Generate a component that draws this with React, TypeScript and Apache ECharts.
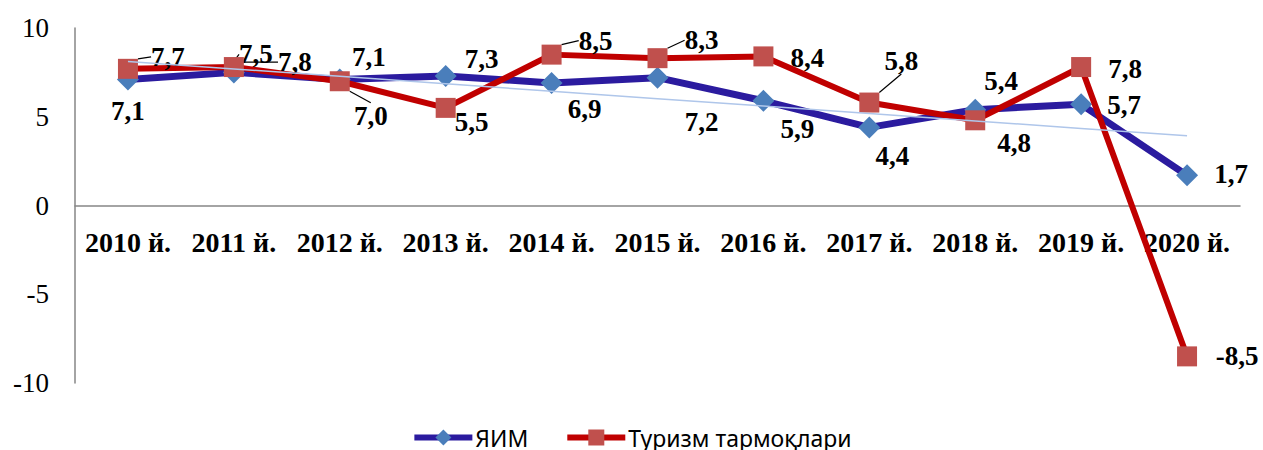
import React, { useEffect, useRef } from "react";
import * as echarts from "echarts";

const categories = ["2010 й.", "2011 й.", "2012 й.", "2013 й.", "2014 й.", "2015 й.", "2016 й.", "2017 й.", "2018 й.", "2019 й.", "2020 й."];
const gdp = [7.1, 7.5, 7.1, 7.3, 6.9, 7.2, 5.9, 4.4, 5.4, 5.7, 1.7];
const tourism = [7.7, 7.8, 7.0, 5.5, 8.5, 8.3, 8.4, 5.8, 4.8, 7.8, -8.5];
const seriesNames = ["ЯИМ", "Туризм тармоқлари"];

// label displacement (centre of label relative to marker), layout only
const gdpLabelOffsets = [[0, 32], [22, -18], [29, -22], [36, -17], [33, 26], [44, 44], [34, 28], [23, 29], [26, -29], [43, 1], [44, -1]];
const tourismLabelOffsets = [[40, -12], [61, -5], [31, 35], [26, 14], [44, -14], [44, -18], [44, 2], [32, -42], [39, 23], [44, 2], [50, 0]];
const tourismLeader = [true, true, true, false, true, true, false, true, false, false, false];
const gdpLeader = [false, true, false, false, false, false, false, false, false, false, false];

function linearTrend(v: number[]): number[] {
  const n = v.length;
  const mx = (n - 1) / 2;
  const my = v.reduce((a, b) => a + b, 0) / n;
  let sxy = 0, sxx = 0;
  v.forEach((y, i) => { sxy += (i - mx) * (y - my); sxx += (i - mx) * (i - mx); });
  const b = sxy / sxx;
  return v.map((_, i) => my + b * (i - mx));
}

const fmt = (p: any) => Number(p.value).toFixed(1).replace(".", ",");
const SERIF = "'Liberation Serif', 'Times New Roman', serif";

export default function App() {
  const ref = useRef<HTMLDivElement>(null);
  useEffect(() => {
    if (!ref.current) return;
    const chart = echarts.init(ref.current, undefined, { renderer: "svg" });
    const mk = (vals: number[], leader: boolean[]) =>
      vals.map((v, i) => ({ value: v, labelLine: { show: leader[i] } }));
    const labelCommon = {
      show: true,
      position: "inside",
      formatter: fmt,
      fontFamily: SERIF,
      fontWeight: "bold",
      fontSize: 27,
      color: "#000",
    };
    const layoutFor = (offs: number[][]) => (p: any) => ({ dx: offs[p.dataIndex][0], dy: offs[p.dataIndex][1] });
    chart.setOption({
      animation: false,
      grid: { left: 75, right: 23, top: 28, bottom: 67, containLabel: false },
      legend: {
        data: seriesNames,
        left: "center",
        top: 421,
        itemWidth: 58,
        itemHeight: 20,
        itemGap: 36,
        lineStyle: { width: 6 },
        textStyle: { fontFamily: "'Noto Sans', sans-serif", fontSize: 23, color: "#000", padding: [0, 0, 0, -2] },
      },
      xAxis: {
        type: "category",
        data: categories,
        boundaryGap: true,
        offset: -177.5,
        axisLine: { show: true, onZero: false, lineStyle: { color: "#868686", width: 1.5 } },
        axisTick: { show: false },
        axisLabel: {
          interval: 0,
          margin: 23,
          fontFamily: SERIF,
          fontWeight: "bold",
          fontSize: 28,
          color: "#000",
        },
        splitLine: { show: false },
      },
      yAxis: {
        type: "value",
        min: -10,
        max: 10,
        interval: 5,
        axisLine: { show: true, lineStyle: { color: "#868686", width: 1.5 } },
        axisTick: { show: false },
        splitLine: { show: false },
        axisLabel: { fontFamily: SERIF, fontSize: 27, color: "#000", margin: 26 },
      },
      series: [
        {
          name: seriesNames[0],
          type: "line",
          data: mk(gdp, gdpLeader),
          symbol: "diamond",
          symbolSize: 22,
          lineStyle: { color: "#2B1B9F", width: 7 },
          itemStyle: { color: "#4A7EBB" },
          label: labelCommon,
          labelLayout: layoutFor(gdpLabelOffsets),
          labelLine: { lineStyle: { color: "#000", width: 1.2 } },
          z: 2,
        },
        {
          name: seriesNames[1],
          type: "line",
          data: mk(tourism, tourismLeader),
          symbol: "rect",
          symbolSize: 20,
          lineStyle: { color: "#C00000", width: 6 },
          itemStyle: { color: "#C0504D" },
          label: labelCommon,
          labelLayout: layoutFor(tourismLabelOffsets),
          labelLine: { lineStyle: { color: "#000", width: 1.2 } },
          z: 3,
        },
        {
          name: "trend",
          type: "line",
          data: linearTrend(gdp),
          symbol: "none",
          lineStyle: { color: "#AFC6EA", width: 1.5 },
          silent: true,
          z: 4,
        },
      ],
    });
    return () => chart.dispose();
  }, []);
  return <div ref={ref} style={{ position: "absolute", left: 0, top: 0, width: 1263, height: 450 }} />;
}
